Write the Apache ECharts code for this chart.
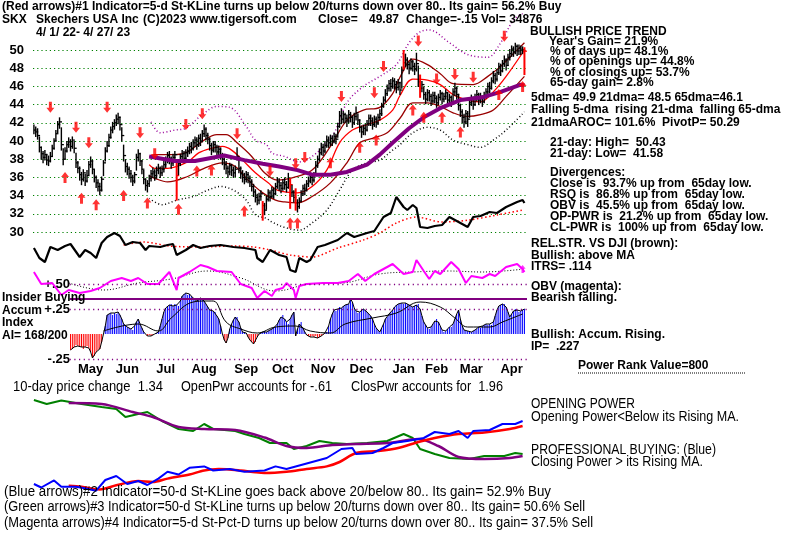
<!DOCTYPE html>
<html><head><meta charset="utf-8">
<script src="https://cdn.jsdelivr.net/npm/echarts@6/dist/echarts.min.js"></script>
<style>html,body{margin:0;padding:0;background:#fff}#c{width:800px;height:536px}</style>
</head><body><div id="c"></div>
<script>
// ---------- DATA ----------
const priceTicks=[30,32,34,36,38,40,42,44,46,48,50];
const monthNames=['May','Jun','Jul','Aug','Sep','Oct','Nov','Dec','Jan','Feb','Mar','Apr'];
const monthLabelDays=[31,51,72,93,116,136,158,179,202,220,239,261];
const closes=[41.2,41.0,40.6,39.3,38.6,38.2,38.5,37.9,37.8,38.3,
39.2,40.0,40.8,41.8,42.1,39.6,38.0,38.9,39.6,39.9,
39.4,40.1,39.2,37.6,37.0,36.3,35.8,36.5,35.6,36.2,
37.4,37.8,36.9,36.0,35.4,35.0,34.6,35.8,37.6,38.9,
39.5,40.4,41.2,41.6,42.0,42.4,42.6,41.8,40.6,38.4,
37.2,36.9,36.4,36.0,35.6,36.3,38.2,38.6,37.8,36.9,
35.8,35.1,35.3,35.9,36.4,36.6,36.2,36.8,37.0,36.5,
36.9,37.4,37.9,38.4,38.1,37.6,38.2,38.5,36.2,37.5,
38.3,38.6,38.1,38.7,38.9,39.4,39.2,39.8,40.1,39.6,
40.3,40.0,40.8,41.3,40.6,40.2,39.5,39.0,39.6,39.3,
38.8,39.1,38.5,38.0,37.4,37.0,36.6,37.3,36.8,36.5,
36.9,38.3,37.0,36.4,36.0,35.8,36.3,35.9,35.5,35.0,
34.4,33.8,33.5,33.9,34.2,32.9,32.4,33.6,34.3,33.9,
34.6,34.2,35.0,35.5,35.1,34.8,35.4,35.2,34.9,35.6,
35.2,34.4,33.8,33.2,32.8,33.4,34.2,34.8,34.6,35.3,
35.6,36.0,35.7,36.2,37.3,38.0,38.7,39.3,38.9,39.5,
40.1,39.8,40.3,40.0,40.5,40.2,41.6,42.8,42.4,42.9,
42.5,42.2,42.9,42.6,42.0,42.7,43.1,42.3,41.5,41.0,
41.4,41.2,41.9,42.5,42.2,41.8,42.4,42.0,42.6,43.0,
43.8,44.5,45.2,45.8,46.3,46.0,46.6,46.2,45.9,46.4,
45.6,47.8,48.6,48.9,48.4,48.0,48.7,48.2,47.9,48.5,
46.5,45.8,46.2,45.1,44.6,45.3,44.9,44.4,45.0,44.7,
44.2,44.8,45.2,44.6,44.9,45.3,44.5,44.8,44.3,45.4,
45.8,45.1,43.9,43.2,42.6,42.1,43.0,42.4,44.2,44.6,
44.0,44.8,45.1,44.5,44.9,44.3,45.0,45.4,46.0,45.8,
46.6,47.2,46.8,47.5,48.2,47.7,48.5,48.9,48.3,49.2,
49.6,50.1,49.8,50.4,49.9,50.2,50.0,50.02,49.87];
const lows=[40.8,40.5,40.2,38.8,38.0,37.6,37.9,37.4,37.3,37.7,
38.3,39.1,40.0,40.9,41.4,39.0,37.4,38.0,38.8,39.3,
38.9,39.2,38.7,37.1,36.5,35.7,35.2,35.6,35.1,35.5,
36.3,37.1,36.4,35.5,34.9,34.5,34.1,34.5,36.2,37.8,
38.8,39.4,40.3,40.9,41.3,41.7,41.9,41.2,40.0,37.8,
36.6,36.3,35.9,35.5,35.1,35.4,36.8,37.8,37.3,36.4,
35.3,34.6,34.4,35.0,35.6,36.0,35.7,35.9,36.4,36.0,
36.2,36.6,37.1,37.6,37.5,37.0,37.3,37.8,33.5,36.3,
37.3,37.9,37.6,37.8,38.3,38.6,38.7,39.0,39.4,39.1,
39.4,39.5,39.9,40.5,40.1,39.7,39.0,38.5,38.8,38.8,
38.3,38.4,38.0,37.4,36.9,36.4,36.0,36.3,36.2,36.0,
36.1,37.9,36.5,35.9,35.5,35.3,35.5,35.4,35.0,34.5,
33.9,33.3,33.0,33.1,33.5,31.3,31.9,32.5,33.4,33.4,
33.8,33.7,34.1,34.8,34.6,34.3,34.6,34.7,34.4,34.8,
32.6,33.9,33.3,32.4,32.2,32.6,33.3,34.0,34.1,34.5,
35.0,35.4,35.2,35.5,36.2,37.1,37.8,38.5,38.4,38.7,
39.3,39.3,39.5,39.5,39.8,39.7,40.4,41.5,41.9,42.0,
42.0,41.6,42.0,42.1,41.5,41.8,42.3,41.8,41.0,40.4,
40.7,40.7,41.1,41.7,41.7,41.3,41.6,41.5,41.8,42.3,
42.8,43.7,44.3,45.0,45.5,45.5,45.8,45.7,45.3,45.6,
45.1,45.8,47.9,48.2,47.9,47.4,47.8,47.7,47.3,47.7,
46.0,44.8,45.4,44.6,44.1,44.4,44.4,43.9,44.2,44.2,
43.7,44.0,44.5,44.1,44.3,44.6,44.0,44.2,43.8,44.3,
45.0,44.6,43.4,42.7,42.0,41.5,41.9,41.6,42.6,43.9,
43.5,43.9,44.4,44.0,44.2,43.8,44.2,44.7,45.2,45.3,
45.7,46.4,46.3,46.6,47.3,47.2,47.6,48.2,47.8,48.3,
48.9,49.3,49.3,49.6,49.4,49.5,49.5,49.6,47.3];
const highs=[41.8,41.6,41.4,40.5,39.4,38.9,39.0,38.6,38.4,38.8,
39.6,40.3,41.2,42.2,42.6,41.5,39.2,39.3,40.0,40.4,
40.2,40.5,40.0,38.7,37.8,37.2,36.6,36.9,36.4,36.8,
37.8,38.3,37.9,36.9,36.2,35.8,35.4,36.1,37.9,39.3,
40.0,40.8,41.6,42.1,42.4,42.9,43.1,42.7,41.5,39.6,
38.0,37.6,37.2,36.8,36.3,36.6,38.6,39.1,38.7,37.9,
36.8,35.9,35.7,36.3,36.8,37.1,36.9,37.2,37.5,37.2,
37.3,37.8,38.3,38.8,38.9,38.3,38.6,38.9,37.7,37.9,
38.6,39.0,38.9,39.1,39.4,39.8,39.9,40.2,40.5,40.4,
40.7,40.8,41.2,41.8,41.5,40.9,40.4,39.8,40.0,40.0,
39.6,39.5,39.3,38.7,38.2,37.8,37.3,37.6,37.5,37.2,
37.3,39.3,38.1,37.2,36.8,36.5,36.7,36.6,36.2,35.8,
35.3,34.7,34.2,34.3,34.6,33.4,33.2,34.0,34.7,34.6,
35.0,34.9,35.4,36.0,35.9,35.5,35.8,36.0,35.6,36.5,
35.9,35.2,34.6,34.8,33.6,33.8,34.6,35.2,35.3,35.7,
36.1,36.5,36.4,36.6,37.8,38.4,39.2,39.8,39.7,40.0,
40.6,40.5,40.7,40.6,40.9,40.8,42.0,43.3,43.6,43.3,
43.1,42.9,43.4,43.2,42.8,43.1,43.8,43.0,42.4,41.7,
41.8,41.9,42.3,42.9,42.9,42.6,42.8,42.7,43.0,43.5,
44.2,44.9,45.7,46.2,46.7,46.8,47.0,46.9,46.6,46.8,
46.5,48.2,50.0,49.6,49.2,48.7,49.1,48.9,48.6,49.7,
48.3,47.3,46.6,46.0,45.4,45.7,45.6,45.2,45.4,45.4,
45.0,45.2,45.6,45.4,45.3,45.7,45.4,45.2,45.0,45.8,
46.4,46.0,45.2,44.1,43.5,43.0,43.4,43.3,44.6,45.1,
44.9,45.2,45.6,45.3,45.3,45.0,45.4,45.8,46.4,46.5,
47.0,47.7,47.5,47.9,48.6,48.5,48.9,49.4,49.1,49.6,
50.1,50.5,50.4,50.8,50.6,50.6,50.5,50.4,50.3];
const redBarDays=[78,125,140,143,202,211,268];
// moving averages / bands: [day, price]
const ma65=[[63,38.3],[77,37.8],[88,37.8],[96,38.1],[104,38.4],[115,37.9],[125,37.5],[134,37.2],[144,36.8],[152,36.3],[162,36.3],[171,36.6],[182,37.4],[189,38.5],[196,39.8],[205,41.4],[213,42.6],[223,43.7],[233,44.5],[245,44.8],[255,45.4],[266,46.2],[268,46.1]];
const bandUpper=[[63,38.3],[66,38.5],[77,38.5],[84,38.8],[93,40.1],[100,40.7],[105,40.7],[111,39.8],[119,38.3],[126,36.5],[133,35.7],[142,36.0],[152,36.8],[162,39.4],[171,42.3],[180,43.4],[189,43.7],[196,45.2],[200,47.0],[207,49.0],[215,48.4],[222,47.4],[229,46.3],[240,46.2],[248,47.1],[255,48.2],[262,49.6],[268,50.8]];
const ma21=[[63,37.4],[66,37.0],[73,37.0],[84,37.7],[90,38.7],[97,39.2],[103,39.4],[108,39.0],[114,37.9],[121,36.5],[128,35.4],[133,34.6],[144,34.3],[152,35.0],[160,36.8],[167,39.8],[174,41.2],[182,41.8],[189,42.3],[196,43.4],[200,45.0],[207,46.8],[215,46.7],[222,46.2],[229,45.1],[237,44.5],[244,44.3],[251,45.4],[258,47.1],[268,50.0]];
const bandLower=[[63,36.2],[66,35.9],[73,35.5],[84,36.1],[93,37.0],[103,37.6],[110,37.2],[117,35.7],[125,34.3],[132,33.5],[137,33.3],[144,33.2],[152,33.9],[162,35.4],[171,37.6],[178,39.8],[185,40.3],[193,40.9],[200,42.5],[207,44.2],[215,44.2],[222,43.8],[229,43.1],[237,42.7],[244,42.9],[251,43.4],[258,44.9],[268,47.1]];
const outerUpper=[[64,42.1],[69,40.9],[77,41.2],[83,41.4],[92,42.9],[100,43.8],[107,43.7],[116,41.6],[121,40.1],[127,39.6],[130,38.7],[137,38.3],[145,37.7],[152,38.3],[163,40.5],[171,44.2],[180,46.0],[189,47.1],[198,48.4],[205,50.8],[211,52.0],[216,52.2],[227,50.8],[237,49.5],[248,49.2],[255,50.8],[262,53.3],[267,54.0]];
const outerLower=[[63,33.7],[70,33.0],[78,33.5],[87,33.9],[95,34.6],[102,35.0],[109,34.6],[116,33.5],[121,31.9],[127,31.5],[130,31.1],[137,30.5],[145,30.2],[152,31.0],[160,32.4],[167,34.6],[174,36.8],[182,37.6],[189,37.9],[196,39.0],[200,39.6],[207,40.9],[215,41.5],[222,41.2],[229,40.1],[237,39.6],[244,39.3],[251,40.1],[258,41.2],[268,43.2]];
const upArrowDays=[17,26,34,49,62,79,89,97,115,140,144,162,178,187,207,213,223,233,254,267];
const upArrowPrices=[36.0,33.7,33.0,34.0,33.2,32.5,36.7,36.8,32.3,31.0,31.0,37.6,39.3,40.1,43.4,42.6,42.6,41.0,45.1,46.0];
const downArrowDays=[9,23,30,40,58,66,83,92,111,129,143,148,168,186,191,210,220,230,240,257];
const downArrowPrices=[43.7,41.5,39.8,43.7,40.9,38.6,41.8,43.0,40.8,36.7,37.5,38.2,44.9,45.3,48.2,51.0,46.8,47.3,47.0,51.5];
// relative strength vs DJI (unscaled units)
const relStr=[[0,2.7],[3,1.7],[6,1.3],[9,2.8],[13,2.5],[17,2.9],[20,3.1],[25,1.8],[28,2.5],[31,2.2],[34,1.7],[37,3.2],[40,3.8],[44,4.2],[47,3.9],[50,3.0],[54,3.3],[58,3.2],[61,2.5],[63,2.9],[69,2.8],[73,3.0],[76,3.1],[78,2.0],[83,2.5],[87,3.0],[91,2.7],[96,2.9],[102,3.0],[109,2.8],[115,2.7],[121,2.5],[122,1.7],[125,1.3],[129,2.5],[134,2.0],[138,1.8],[140,0.5],[143,0.3],[145,1.7],[149,1.3],[151,1.5],[155,2.8],[159,3.0],[166,3.5],[171,4.2],[175,3.8],[182,4.2],[186,4.4],[191,5.8],[195,6.2],[198,7.8],[202,6.8],[204,6.5],[207,7.0],[209,6.7],[211,4.8],[215,4.7],[219,4.9],[223,5.0],[227,5.8],[231,5.4],[235,5.0],[237,4.8],[240,5.8],[244,5.9],[249,6.3],[253,6.2],[258,6.8],[264,7.3],[267,7.5],[268,7.2]];
const relStrMA=[[49,3.0],[60,3.3],[74,2.9],[91,2.8],[109,2.9],[120,2.8],[129,2.5],[140,2.0],[152,1.8],[166,2.7],[180,3.5],[189,4.2],[198,5.2],[209,5.8],[223,5.3],[238,5.5],[253,6.0],[267,6.5]];
// OBV (unscaled units)
const obv=[[0,3.8],[4,2.6],[10,2.7],[15,1.5],[19,2.0],[25,1.7],[31,1.9],[36,2.2],[42,2.9],[48,3.2],[53,2.9],[57,3.2],[62,2.6],[68,2.6],[74,3.8],[78,2.0],[79,3.2],[85,3.8],[91,4.5],[95,4.3],[100,3.9],[108,3.8],[113,2.6],[119,2.2],[122,1.2],[126,1.9],[130,1.4],[132,2.0],[136,2.2],[138,2.7],[142,2.0],[143,1.2],[145,2.4],[149,2.6],[158,2.7],[166,2.7],[172,2.9],[177,3.6],[181,2.9],[186,3.6],[196,4.6],[202,3.6],[207,3.8],[209,5.0],[213,3.9],[216,3.1],[219,3.9],[222,3.6],[228,4.8],[232,4.1],[236,2.7],[239,3.4],[245,3.2],[249,3.6],[252,3.4],[258,4.3],[264,4.6],[267,4.1],[268,3.8]];
const obvMA=[[19,2.7],[38,2.0],[57,2.7],[75,3.1],[95,3.9],[113,3.2],[132,1.9],[151,2.6],[169,2.7],[189,3.6],[207,3.8],[226,3.9],[245,3.8],[268,4.1]];
// Accumulation index, daily from day 20
const accumStart=20;
const accum=[-.16,-.15,-.13,-.11,-.12,-.12,-.13,-.15,-.13,-.12,
-.14,-.18,-.24,-.22,-.18,-.16,-.15,-.08,0.0,.08,
.19,.2,.21,.19,.21,.2,.22,.19,.15,.1,
.08,.07,.06,.05,.04,.08,.12,.15,.1,.06,
.02,0,-.02,-.01,-.02,-.01,0,.01,.02,.08,
.15,.22,.26,.28,.29,.3,.28,.3,.29,.28,
.33,.38,.4,.41,.39,.4,.38,.36,.34,.33,
.34,.36,.35,.33,.3,.27,.24,.25,.23,.22,
.18,.15,.08,0,-.06,-.09,-.04,.05,.1,.14,
.17,.17,.12,.06,.02,.02,.01,-.03,-.06,-.08,
-.1,-.08,-.03,0,.01,.02,.03,.02,.03,.04,
.05,.06,.07,.1,.14,.17,.19,.15,.12,.1,
.15,.19,.22,-.02,.05,.1,.12,.06,.02,-.01,
-.02,-.03,-.02,-.03,-.02,-.04,-.03,-.02,-.01,.01,
.02,.08,.15,.2,.24,.23,.25,.27,.26,.28,
.29,.3,.3,.35,.32,.26,.23,.21,.22,.24,
.25,.24,.22,.2,.18,.15,.1,.06,.04,.02,
.06,.1,.15,.17,.2,.22,.24,.27,.29,.3,
.3,.31,.3,.31,.3,.29,.28,.27,.28,.29,
.3,.25,.18,.12,.09,.06,.05,.07,.1,.13,
.15,.12,.08,.04,.02,.03,.05,.07,.07,.1,
.15,.2,.24,.15,.08,.04,.03,.03,.02,.02,
.03,.04,.05,.07,.06,.08,.09,.1,.09,.1,
.09,.12,.18,.24,.28,.29,.3,.3,.27,.22,
.17,.2,.23,.25,.24,.22,.23,.24,.25];
const accumMA=[[38,.03],[57,.1],[68,.03],[75,.16],[87,.32],[94,.33],[98,.33],[105,.12],[113,.05],[122,.01],[132,.07],[143,.08],[151,.03],[162,.01],[170,.1],[185,.16],[198,.21],[211,.32],[222,.27],[230,.16],[237,.07],[249,.07],[256,.12],[267,.2]];
const accumTickValues=[0.5,0.25,-0.25];
const accumTickLabels=['+.50','+.25','-.25'];
// Opening / closing power (unscaled units)
const openPwr=[[0,10.0],[7,9.6],[15,9.95],[26,9.6],[37,9.3],[45,9.1],[50,8.3],[57,8.6],[62,8.8],[70,7.9],[79,7.1],[87,6.9],[93,7.6],[98,7.1],[110,6.9],[115,6.6],[123,6.2],[129,5.7],[138,5.7],[142,5.1],[149,5.4],[156,5.9],[163,5.7],[171,5.6],[182,5.7],[193,5.9],[202,6.6],[207,6.2],[211,5.1],[219,4.6],[227,4.2],[238,4.1],[246,4.4],[257,4.4],[263,4.7],[267,4.6]];
const openPwrMA=[[19,9.7],[37,9.6],[54,8.8],[65,8.3],[79,7.3],[93,7.1],[110,7.0],[126,6.25],[138,5.4],[149,5.2],[163,5.5],[176,5.6],[193,5.7],[210,6.1],[221,5.4],[232,4.3],[246,4.1],[260,4.2],[267,4.4]];
const closePwr=[[0,1.6],[4,1.25],[11,1.96],[15,1.33],[23,1.33],[27,1.2],[34,0.93],[39,2.0],[45,2.4],[51,1.6],[57,1.9],[62,1.5],[68,2.14],[73,2.82],[79,2.55],[85,3.22],[93,3.36],[98,2.95],[107,3.1],[115,2.82],[126,2.95],[132,3.36],[138,3.1],[146,3.5],[154,3.9],[160,4.2],[168,5.1],[174,5.2],[176,4.6],[185,4.7],[191,5.2],[196,5.7],[204,5.9],[213,6.2],[219,6.8],[227,6.6],[232,6.9],[237,6.2],[240,6.9],[249,7.0],[256,7.6],[263,7.6],[267,7.9]];
const closePwrMA=[[19,1.42],[26,1.33],[36,1.06],[45,1.47],[57,1.9],[65,1.8],[73,2.14],[85,2.55],[93,2.95],[101,3.1],[113,2.95],[121,2.77],[126,2.7],[138,2.82],[149,3.1],[160,3.36],[167,3.8],[176,4.7],[188,4.9],[199,5.2],[210,5.8],[219,6.2],[232,6.6],[246,6.75],[260,7.1],[267,7.4]];
const obvArrow=[[267,4.1]];

// ---------- CHART ----------
const F='"Liberation Sans", Arial, sans-serif';
const UP='path://M4,0 L8,5 L5.5,5 L5.5,11 L2.5,11 L2.5,5 L0,5 Z';
const DOWN='path://M2.5,0 L5.5,0 L5.5,6 L8,6 L4,11 L0,6 L2.5,6 Z';
const G={left:33,width:494};
const grids=[
 {...G,top:8,height:254},
 {...G,top:190,height:85},
 {...G,top:255,height:55},
 {...G,top:270,height:92},
 {...G,top:390,height:110}
];
const xAxes=grids.map((g,i)=>({gridIndex:i,type:'value',min:-0.5,max:269.4,show:i===3,
  axisLine:{show:false},axisTick:{show:false},splitLine:{show:false},
  axisLabel:i===3?{customValues:monthLabelDays,margin:1,color:'#000',fontFamily:F,fontWeight:'bold',fontSize:13,
     formatter:v=>{const k=monthLabelDays.indexOf(Math.round(v));return k>=0?monthNames[k]:'';}}:{show:false}}));
const yAxes=[
 {gridIndex:0,type:'value',min:26.703,max:54.615,splitLine:{show:false},axisLine:{show:false},axisTick:{show:false},
  axisLabel:{customValues:priceTicks,margin:9,color:'#000',fontFamily:F,fontWeight:'bold',fontSize:13}},
 {gridIndex:1,type:'value',min:0,max:8.5,show:false},
 {gridIndex:2,type:'value',min:0,max:5.5,show:false},
 {gridIndex:3,type:'value',min:-0.28,max:0.64,splitLine:{show:false},axisLine:{show:false},axisTick:{show:false},
  axisLabel:{customValues:accumTickValues,margin:-37,color:'#000',fontFamily:F,fontWeight:'bold',fontSize:13,
   formatter:v=>{const k=accumTickValues.indexOf(v);return k>=0?accumTickLabels[k]:'';}}},
 {gridIndex:4,type:'value',min:0,max:11,show:false}
];
const line=(gi,data,color,width,extra)=>Object.assign({type:'line',xAxisIndex:gi,yAxisIndex:gi,data,symbol:'none',
  lineStyle:{color,width},silent:true},extra||{});
const dotted=[1,2.5];
const series=[
 line(0,ma65,'#800080',4,{z:4,markLine:{silent:true,symbol:['none','none'],label:{show:false},z:1,
   lineStyle:{color:'#008000',type:[1.2,3],width:1.2},data:priceTicks.map(v=>({yAxis:v}))}}),
 line(0,bandUpper,'#990000',1.3,{smooth:0.35,z:2}),
 line(0,bandLower,'#990000',1.3,{smooth:0.35,z:2}),
 line(0,ma21,'#ff0000',1.3,{smooth:0.35,z:2}),
 line(0,outerUpper,'#990099',1.5,{smooth:0.35,z:2,lineStyle:{color:'#990099',width:1.5,type:dotted}}),
 line(0,outerLower,'#000000',1.5,{smooth:0.35,z:2,lineStyle:{color:'#000',width:1.5,type:dotted}}),
 {type:'custom',xAxisIndex:0,yAxisIndex:0,z:3,silent:true,
  data:closes.map((c,i)=>[i,lows[i],highs[i],c]),encode:{x:0,y:[1,2,3]},
  renderItem:(p,api)=>{const i=api.value(0);const lo=api.coord([i,api.value(1)]),hi=api.coord([i,api.value(2)]),cl=api.coord([i,api.value(3)]);
   const red=redBarDays.indexOf(i)>=0;const col=red?'#ff0000':'#000';const w=red?2:1.4;
   return {type:'group',children:[
    {type:'line',shape:{x1:lo[0],y1:lo[1]+0.5,x2:hi[0],y2:hi[1]},style:{stroke:col,lineWidth:w}},
    {type:'line',shape:{x1:cl[0],y1:cl[1],x2:cl[0]+2.5,y2:cl[1]},style:{stroke:col,lineWidth:1.3}}]};}},
 {type:'scatter',xAxisIndex:0,yAxisIndex:0,z:5,silent:true,symbol:UP,symbolSize:[8,11],itemStyle:{color:'#ff0000'},
  data:upArrowDays.map((d,i)=>[d,upArrowPrices[i]])},
 {type:'scatter',xAxisIndex:0,yAxisIndex:0,z:5,silent:true,symbol:DOWN,symbolSize:[8,11],itemStyle:{color:'#ff0000'},
  data:downArrowDays.map((d,i)=>[d,downArrowPrices[i]])},
 line(1,relStrMA,'#ff0000',1.5,{smooth:0.3,lineStyle:{color:'#ff0000',width:1.5,type:[1.5,2.5]}}),
 line(1,relStr,'#000000',2.2),
 line(2,obvMA,'#000000',1,{smooth:0.4,lineStyle:{color:'#000',width:1,type:[1,2]}}),
 line(2,obv,'#ff00ff',2),
 {type:'scatter',xAxisIndex:2,yAxisIndex:2,silent:true,symbol:UP,symbolSize:[6,8],itemStyle:{color:'#ff00ff'},data:obvArrow},
 {type:'bar',xAxisIndex:3,yAxisIndex:3,barWidth:1,silent:true,z:2,
  data:accum.map((v,i)=>[i+accumStart,v]),
  itemStyle:{color:p=>p.value[1]<0?'#ff0000':'#0000ff'}},
 line(3,accum.map((v,i)=>[i+accumStart,v]),'#000000',1,{z:3,markLine:{silent:true,symbol:['none','none'],label:{show:false},
   data:[
    [{coord:[19.5,0.5],lineStyle:{color:'#800080',type:[1.2,3.5],width:1.3}},{coord:[269.4,0.5]}],
    [{coord:[19.5,0.25],lineStyle:{color:'#800080',type:[1.2,3.5],width:1.3}},{coord:[269.4,0.25]}],
    [{coord:[19.5,-0.25],lineStyle:{color:'#800080',type:[1.2,3.5],width:1.3}},{coord:[269.4,-0.25]}],
    [{coord:[19.5,0.35],lineStyle:{color:'#800080',type:'solid',width:2}},{coord:[269.4,0.35]}]
   ]}}),
 line(3,accumMA,'#000000',1,{smooth:0.4,z:4}),
 line(4,openPwr,'#008000',2),
 line(4,openPwrMA,'#800080',2.5,{smooth:0.3}),
 line(4,closePwrMA,'#ff0000',2.5,{smooth:0.3}),
 line(4,closePwr,'#0000ff',2)
];
// text helpers
const mctx=document.createElement('canvas').getContext('2d');
const T=(x,y,text,font,extra)=>Object.assign({type:'text',x,y,silent:true,z:100,
  style:Object.assign({text,font:font||('bold 12px '+F),fill:'#000',verticalAlign:'middle',align:'left'},extra||{})});
// condensed text: fitted horizontally to the width it occupies in the reference
const NF='14px '+F;
const TN=(x,y,text,targetW)=>{mctx.font=NF;const w=mctx.measureText(text).width;
  const t=T(x,y,text,NF);t.scaleX=Math.min(1,targetW/w);return t;};
const B='bold 12px '+F;
const texts=[
 T(2,7,'(Red arrows)#1 Indicator=5-d St-KLine turns up below 20/turns down over 80.. Its gain= 56.2% Buy',B),
 T(2,20,'SKX',B),T(36,20,'Skechers USA Inc',B),T(143,20,'(C)2023 www.tigersoft.com',B),
 T(318,20,'Close=',B),T(399,20,'49.87',B,{align:'right'}),T(406,20,'Change=-.15 Vol= 34876',B),
 T(36,33,'4/ 1/ 22- 4/ 27/ 23',B),
 T(530,32,'BULLISH PRICE TREND',B),
 T(549,42,"Year's Gain= 21.9%",B),
 T(550,52,'% of days up= 48.1%',B),
 T(550,62,'% of openings up= 44.8%',B),
 T(550,73,'% of closings up= 53.7%',B),
 T(550,83,'65-day gain= 2.8%',B),
 T(531,98,'5dma= 49.9 21dma= 48.5 65dma=46.1',B),
 T(531,110,'Falling 5-dma  rising 21-dma  falling 65-dma',B),
 T(531,123,'21dmaAROC= 101.6%  PivotP= 50.29',B),
 T(550,143,'21-day: High=  50.43',B),
 T(550,154,'21-day: Low=  41.58',B),
 T(550,173,'Divergences:',B),
 T(550,184,'Close is  93.7% up from  65day low.',B),
 T(550,195,'RSQ is  86.8% up from  65day low.',B),
 T(550,206,'OBV is  45.5% up from  65day low.',B),
 T(550,217,'OP-PWR is  21.2% up from  65day low.',B),
 T(550,228,'CL-PWR is  100% up from  65day low.',B),
 T(531,244,'REL.STR. VS DJI (brown):',B),
 T(531,256,'Bullish: above MA',B),
 T(531,267,'ITRS= .114',B),
 T(531,287,'OBV (magenta):',B),
 T(531,298,'Bearish falling.',B),
 T(531,335,'Bullish: Accum. Rising.',B),
 T(531,347,'IP=  .227',B),
 T(578,366,'Power Rank Value=800',B),
 {type:'line',silent:true,shape:{x1:578,y1:373,x2:745,y2:373},style:{stroke:'#000',lineWidth:1,lineDash:[1,1]}},
 T(2,298,'Insider Buying',B),T(2,311,'Accum',B),T(2,323,'Index',B),T(2,336,'AI= 168/200',B),
 TN(13,387,'10-day price change  1.34',150),TN(181,387,'OpenPwr accounts for -.61',151),TN(351,387,'ClosPwr accounts for  1.96',152),
 TN(531,404,'OPENING POWER',104),TN(531,417,'Opening Power<Below its Rising MA.',208),
 TN(531,450,'PROFESSIONAL BUYING: (Blue)',185),TN(531,462,'Closing Power > its Rising MA.',172),
 TN(4,492,'(Blue arrows)#2 Indicator=50-d St-KLine goes back above 20/below 80.. Its gain= 52.9% Buy',547),
 TN(4,507,'(Green arrows)#3 Indicator=50-d St-KLine turns up below 20/turns down over 80.. Its gain= 50.6% Sell',581),
 TN(4,523,'(Magenta arrows)#4 Indicator=5-d St-Pct-D turns up below 20/turns down over 80.. Its gain= 37.5% Sell',589)
];
const chart=echarts.init(document.getElementById('c'));
chart.setOption({animation:false,backgroundColor:'#fff',grid:grids,xAxis:xAxes,yAxis:yAxes,series,graphic:texts});
</script></body></html>
